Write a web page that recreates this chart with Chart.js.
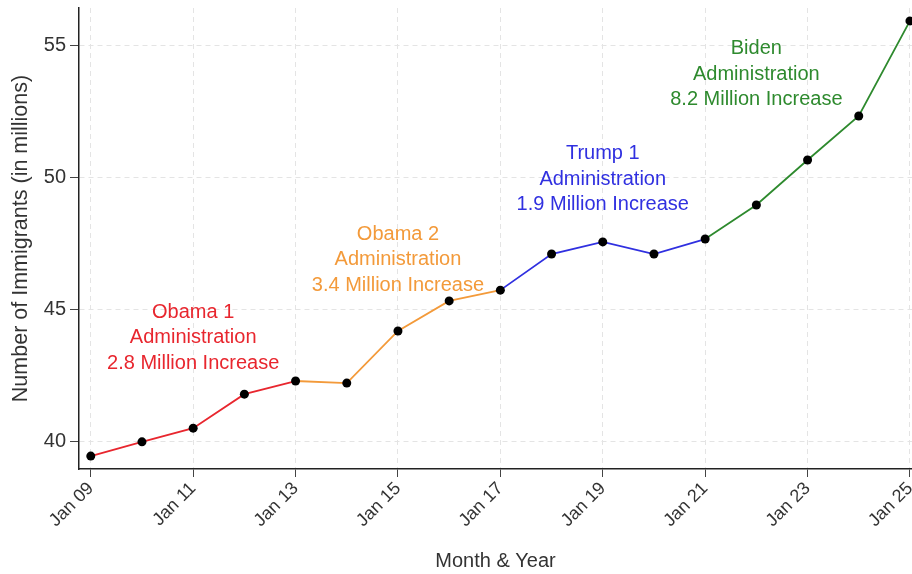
<!DOCTYPE html>
<html>
<head>
<meta charset="utf-8">
<script src="https://cdn.jsdelivr.net/npm/chart.js@4.4.1/dist/chart.umd.min.js"></script>
<style>
  html, body { margin: 0; padding: 0; background: #fff; }
  #wrap { width: 912px; height: 574px; }
</style>
</head>
<body>
<div id="wrap"><canvas id="grafico"></canvas></div>
<script>
// Datos
const etiquetas = ["Jan 09", "Jan 10", "Jan 11", "Jan 12", "Jan 13", "Jan 14", "Jan 15", "Jan 16", "Jan 17",
                   "Jan 18", "Jan 19", "Jan 20", "Jan 21", "Jan 22", "Jan 23", "Jan 24", "Jan 25"];
const inmigrantes = [39.43, 39.97, 40.49, 41.78, 42.28, 42.2, 44.18, 45.32, 45.73,
                     47.1, 47.56, 47.1, 47.67, 48.96, 50.67, 52.34, 55.95];
const ticksX = [0, 2, 4, 6, 8, 10, 12, 14, 16];
const ticksY = [40, 45, 50, 55];

// Mandatos: índice del último punto de cada tramo
const finMandato = [4, 8, 12, 16];
const coloresMandato = ["#e8262e", "#f39a3a", "#3030e0", "#2e8a2e"];
const textosMandato = [
    ["Obama 1", "Administration", "2.8 Million Increase"],
    ["Obama 2", "Administration", "3.4 Million Increase"],
    ["Trump 1", "Administration", "1.9 Million Increase"],
    ["Biden", "Administration", "8.2 Million Increase"]
];
// posición de cada texto (en unidades de datos: año, valor de la primera línea)
const anclaTexto = [[2, 44.9], [6, 47.85], [10, 50.9], [13, 54.9]];

const puntos = inmigrantes.map((v, i) => ({ x: i, y: v }));
const fuente = "'Liberation Sans', Arial, sans-serif";

function colorTramo(i) {
    for (let k = 0; k < finMandato.length; k++) {
        if (i < finMandato[k]) return coloresMandato[k];
    }
    return coloresMandato[coloresMandato.length - 1];
}

const textosPlugin = {
    id: "textosMandato",
    afterDatasetsDraw(chart) {
        const { ctx, scales } = chart;
        ctx.save();
        ctx.font = "20px " + fuente;
        ctx.textAlign = "center";
        ctx.textBaseline = "middle";
        textosMandato.forEach((lineas, k) => {
            const x = scales.x.getPixelForValue(anclaTexto[k][0]);
            const y0 = scales.y.getPixelForValue(anclaTexto[k][1]);
            ctx.fillStyle = coloresMandato[k];
            lineas.forEach((t, j) => ctx.fillText(t, x, y0 + j * 25.5));
        });
        ctx.restore();
    }
};

const ctx = document.getElementById("grafico").getContext("2d");
new Chart(ctx, {
    type: "line",
    data: {
        datasets: [{
            data: puntos,
            borderWidth: 1.8,
            borderColor: "#e8262e",
            segment: {
                borderColor: c => colorTramo(c.p0DataIndex)
            },
            pointRadius: 4.5,
            pointBackgroundColor: "#000",
            pointBorderColor: "#000",
            pointBorderWidth: 0,
            tension: 0
        }]
    },
    options: {
        responsive: true,
        maintainAspectRatio: false,
        animation: false,
        layout: { autoPadding: false, padding: { top: 8, right: 0, left: 0, bottom: 1 } },
        plugins: {
            legend: { display: false },
            tooltip: { enabled: false }
        },
        scales: {
            x: {
                type: "linear",
                min: -0.23,
                max: 16.04,
                afterBuildTicks: ax => { ax.ticks = ticksX.map(v => ({ value: v })); },
                afterFit: ax => { ax.height = 104; ax.paddingLeft = 0; ax.paddingRight = 0; },
                ticks: {
                    minRotation: 45,
                    maxRotation: 45,
                    color: "#333",
                    padding: 1,
                    font: { family: fuente, size: 18 },
                    callback: v => etiquetas[v]
                },
                grid: { color: "#e4e4e4", tickColor: "#444", tickLength: 8, tickWidth: 1 },
                border: { display: true, color: "#222", width: 1.5, dash: [5, 4] },
                title: {
                    display: true,
                    text: "Month & Year",
                    color: "#333",
                    padding: { top: 0, bottom: 0 },
                    font: { family: fuente, size: 20 }
                }
            },
            y: {
                min: 38.94,
                max: 56.44,
                afterBuildTicks: ax => { ax.ticks = ticksY.map(v => ({ value: v })); },
                afterFit: ax => { ax.width = 79; ax.paddingTop = 0; ax.paddingBottom = 0; },
                ticks: {
                    color: "#333",
                    padding: 4,
                    font: { family: fuente, size: 20 }
                },
                grid: { color: "#e4e4e4", tickColor: "#444", tickLength: 9, tickWidth: 1 },
                border: { display: true, color: "#222", width: 1.5, dash: [5, 4] },
                title: {
                    display: true,
                    text: "Number of Immigrants (in millions)",
                    color: "#333",
                    padding: { top: 8, bottom: 0 },
                    font: { family: fuente, size: 21.5 }
                }
            }
        }
    },
    plugins: [textosPlugin]
});
</script>
</body>
</html>
